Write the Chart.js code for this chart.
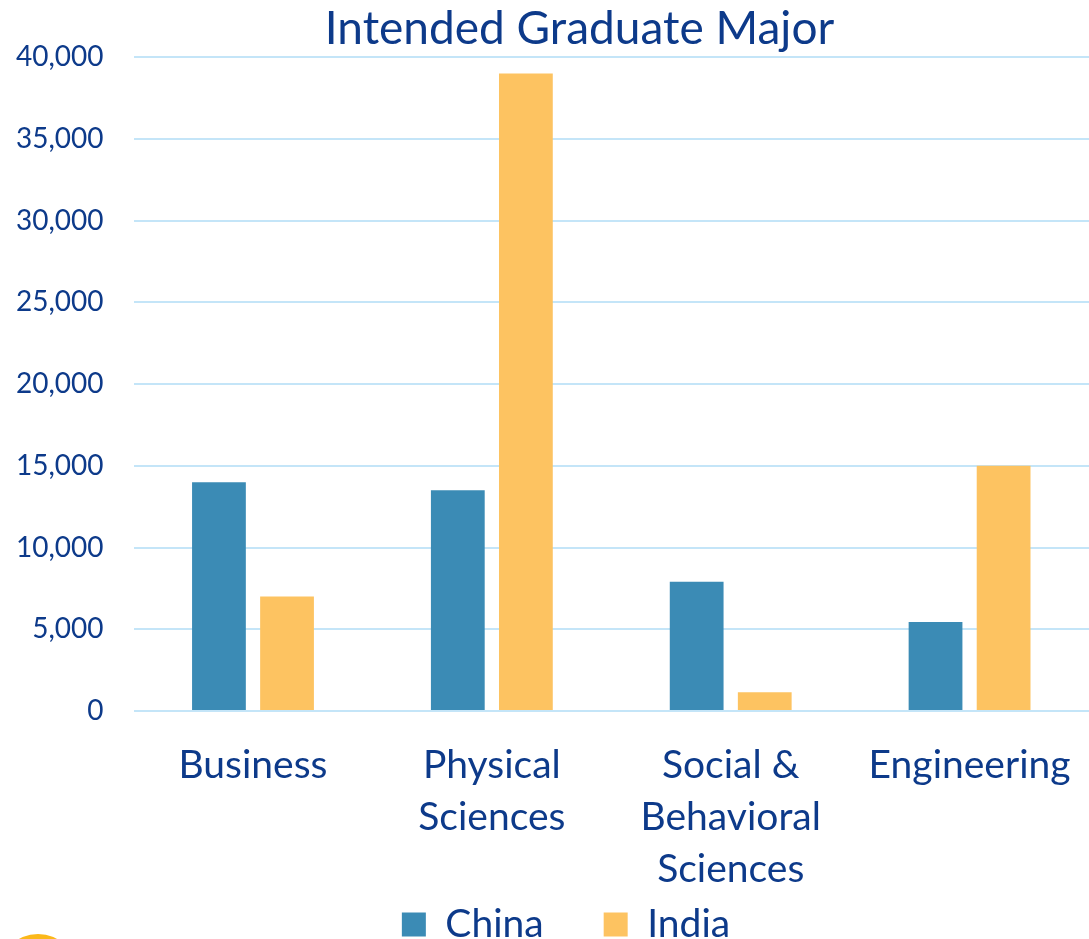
<!DOCTYPE html>
<html>
<head>
<meta charset="utf-8">
<script src="https://cdn.jsdelivr.net/npm/chart.js@4"></script>
<style>
  html, body { margin: 0; padding: 0; background: #fff; overflow: hidden; }
  #wrap { position: relative; width: 1089px; height: 939px; }
  #dot { position: absolute; left: -2px; top: 934px; width: 80px; height: 80px; border-radius: 50%; background: #fbb81a; }
</style>
</head>
<body>
<div id="wrap">
  <canvas id="grafico" width="1089" height="939"></canvas>
  <div id="dot"></div>
</div>
<script>
const categorias = ['Business', ['Physical', 'Sciences'], ['Social &', 'Behavioral', 'Sciences'], 'Engineering'];
const china = [14000, 13500, 7900, 5450];
const india = [7000, 39000, 1150, 15000];
const ticksY = [0, 5000, 10000, 15000, 20000, 25000, 30000, 35000, 40000];

const azulTexto = '#0d3a8a';

// título y leyenda algo desplazados, como en el original
const ajustarCajas = {
    id: 'ajustarCajas',
    afterLayout(chart) {
        if (chart.titleBlock) chart.titleBlock.left = 63;
        if (chart.legend) chart.legend.left += 50;
    }
};

window.addEventListener('DOMContentLoaded', () => {
    const ctx = document.getElementById('grafico').getContext('2d');
    new Chart(ctx, {
        type: 'bar',
        data: {
            labels: categorias,
            datasets: [
                { label: 'China', data: china, backgroundColor: '#3b8bb5' },
                { label: 'India', data: india, backgroundColor: '#fdc361' }
            ]
        },
        plugins: [ajustarCajas],
        options: {
            responsive: false,
            animation: false,
            categoryPercentage: 0.57,
            barPercentage: 0.79,
            layout: { padding: { left: -14, right: -7, top: 0, bottom: -15 } },
            plugins: {
                title: {
                    display: true,
                    text: 'Intended Graduate Major',
                    color: azulTexto,
                    font: { family: 'Lato', size: 46, weight: 'normal', lineHeight: 1.2 },
                    padding: { top: 2, bottom: 0 }
                },
                legend: {
                    position: 'bottom',
                    labels: {
                        color: azulTexto,
                        font: { family: 'Lato', size: 39 },
                        boxWidth: 24,
                        boxHeight: 24,
                        padding: 60
                    }
                },
                tooltip: { enabled: false }
            },
            scales: {
                x: {
                    grid: { display: false },
                    border: { display: false },
                    afterFit: (scale) => {
                        scale.height = 134;
                        scale.paddingLeft = 0;
                        scale.paddingRight = 0;
                        scale._computeLabelArea = () => undefined;
                    },
                    ticks: {
                        color: azulTexto,
                        font: { family: 'Lato', size: 39, lineHeight: 1.34 },
                        maxRotation: 0,
                        autoSkip: false,
                        padding: 20
                    }
                },
                y: {
                    min: 0,
                    max: 40000,
                    afterBuildTicks: (axis) => { axis.ticks = ticksY.map(v => ({ value: v })); },
                    afterFit: (scale) => { scale.paddingTop = 0; scale.paddingBottom = 0; },
                    grid: { color: '#c4e5f8', lineWidth: 2, drawTicks: false },
                    border: { display: false },
                    ticks: {
                        color: azulTexto,
                        font: { family: 'Lato', size: 28 },
                        padding: 30,
                        callback: (v) => v.toLocaleString('en-US')
                    }
                }
            }
        }
    });
});
</script>
</body>
</html>
